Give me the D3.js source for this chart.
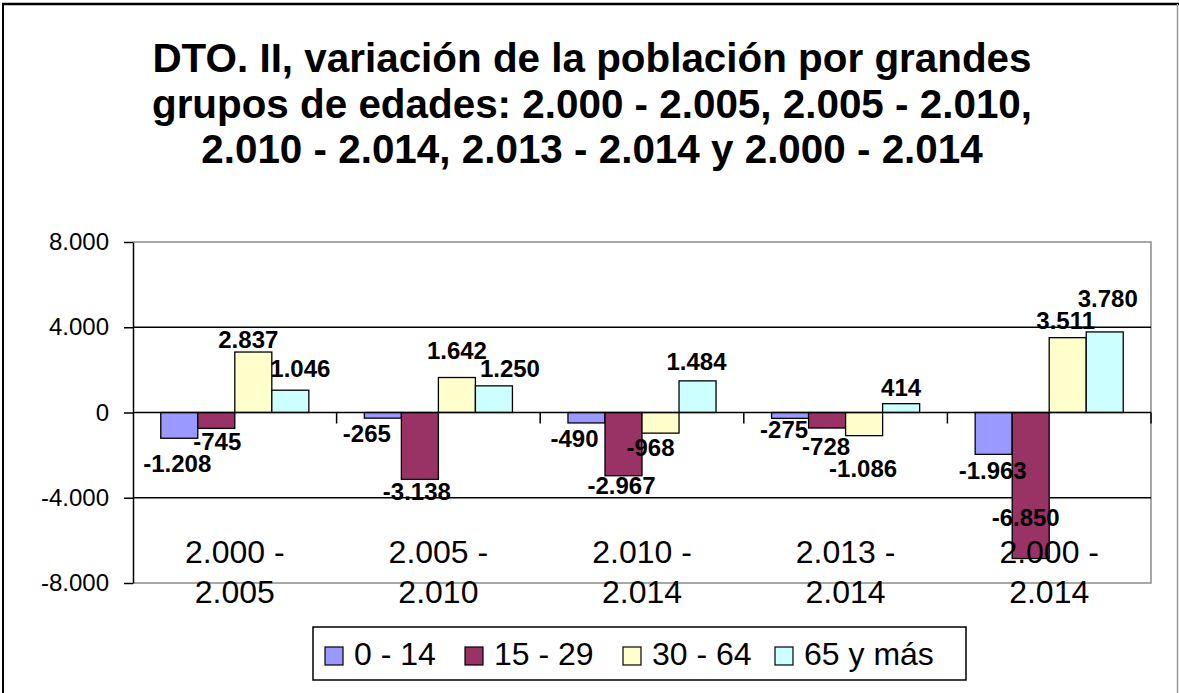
<!DOCTYPE html>
<html lang="es">
<head>
<meta charset="utf-8">
<script src="https://cdn.jsdelivr.net/npm/d3@7/dist/d3.min.js"></script>
<style>
  html, body { margin: 0; padding: 0; background: #fff; }
  svg { display: block; font-family: "Liberation Sans", Arial, sans-serif; }
</style>
</head>
<body>
<svg id="chart" width="1179" height="693"></svg>
<script>
// Population change by age group, DTO. II
const periods = [
  ["2.000 -", "2.005"],
  ["2.005 -", "2.010"],
  ["2.010 -", "2.014"],
  ["2.013 -", "2.014"],
  ["2.000 -", "2.014"]
];
const seriesNames = ["0 - 14", "15 - 29", "30 - 64", "65 y más"];
const age0to14 = [-1208, -265, -490, -275, -1963];
const age15to29 = [-745, -3138, -2967, -728, -6850];
const age30to64 = [2837, 1642, -968, -1086, 3511];
const age65plus = [1046, 1250, 1484, 414, 3780];
const yTickValues = [-8000, -4000, 0, 4000, 8000];
const titleLines = [
  "DTO. II, variación de la población por grandes",
  "grupos de edades: 2.000 - 2.005, 2.005 - 2.010,",
  "2.010 - 2.014, 2.013 - 2.014 y 2.000 - 2.014"
];

const seriesValues = [age0to14, age15to29, age30to64, age65plus];
const colors = ["#9999FF", "#993366", "#FFFFCC", "#CCFFFF"];

// small hand offsets [dx, dy] for each value label, per series and period
const labelShift = [
  [[-2, 10], [-16, 0], [-12, 0], [-6, -4], [-1, 1]],
  [[1, -2], [-3, -3], [-2, -6], [-1, 3], [-5, -56]],
  [[-5, 2], [0, -13], [-10, -1], [-1, 17], [-2, -3]],
  [[10, -7], [16, -3], [-1, -5], [0, -2], [3, -19]]
];

const es = d3.formatLocale({ decimal: ",", thousands: ".", grouping: [3], currency: ["", ""], minus: "-" });
const fmt = es.format(",d");

const svg = d3.select("#chart");
const W = 1179, H = 693;

// outer chart frame
svg.append("line").attr("x1", 3).attr("x2", 3).attr("y1", 3).attr("y2", H).attr("stroke", "#000").attr("stroke-width", 2);
svg.append("line").attr("x1", 2).attr("x2", W).attr("y1", 4).attr("y2", 4).attr("stroke", "#000").attr("stroke-width", 2.5);
svg.append("line").attr("x1", 1177.5).attr("x2", 1177.5).attr("y1", 4).attr("y2", H).attr("stroke", "#9a9a9a").attr("stroke-width", 1.5);

// title
const title = svg.append("text")
  .attr("text-anchor", "middle")
  .attr("font-weight", "bold")
  .attr("font-size", 40.4)
  .attr("fill", "#000");
titleLines.forEach((t, i) => {
  title.append("tspan").attr("x", 592).attr("y", 72 + i * 45.5).text(t);
});

// scales
const plot = { left: 133, right: 1151, top: 242, bottom: 583 };
const x0 = d3.scaleBand().domain(d3.range(periods.length)).range([plot.left, plot.right]).paddingInner(0).paddingOuter(0);
const x1 = d3.scaleBand().domain(d3.range(seriesNames.length)).range([0, x0.bandwidth()]).paddingInner(0).paddingOuter(0.75);
const y = d3.scaleLinear().domain([-8000, 8000]).range([plot.bottom, plot.top]);

// plot frame (grey) on top/right/bottom
svg.append("path")
  .attr("d", `M${plot.left},${plot.top}H${plot.right}V${plot.bottom}H${plot.left}`)
  .attr("fill", "none").attr("stroke", "#8c8c8c").attr("stroke-width", 1.5);

// major gridlines
svg.append("g").selectAll("line")
  .data(yTickValues.filter(v => v !== 8000 && v !== -8000 && v !== 0))
  .join("line")
  .attr("x1", plot.left).attr("x2", plot.right)
  .attr("y1", d => y(d)).attr("y2", d => y(d))
  .attr("stroke", "#000").attr("stroke-width", 1.5);

// y axis
const yAxis = svg.append("g")
  .attr("transform", `translate(${plot.left},0)`)
  .call(d3.axisLeft(y).tickValues(yTickValues).tickFormat(fmt).tickSize(9).tickSizeOuter(0).tickPadding(15));
yAxis.select(".domain").attr("stroke", "#000").attr("stroke-width", 1.5);
yAxis.selectAll(".tick line").attr("stroke", "#000").attr("stroke-width", 1.5);
yAxis.selectAll(".tick text")
  .attr("font-size", 24).attr("fill", "#000")
  .attr("font-family", "'Liberation Sans', Arial, sans-serif");

// bars
const groups = svg.append("g").selectAll("g")
  .data(periods.map((p, i) => i))
  .join("g")
  .attr("transform", i => `translate(${x0(i)},0)`);

groups.selectAll("rect")
  .data(ci => seriesValues.map((vals, si) => ({ si, ci, v: vals[ci] })))
  .join("rect")
  .attr("x", d => x1(d.si))
  .attr("width", x1.bandwidth())
  .attr("y", d => Math.min(y(d.v), y(0)))
  .attr("height", d => Math.abs(y(d.v) - y(0)))
  .attr("fill", d => colors[d.si])
  .attr("stroke", "#000").attr("stroke-width", 1.3);

// zero axis with category separators
svg.append("line")
  .attr("x1", plot.left).attr("x2", plot.right)
  .attr("y1", y(0)).attr("y2", y(0))
  .attr("stroke", "#000").attr("stroke-width", 1.5);
svg.append("g").selectAll("line")
  .data(d3.range(1, periods.length + 1))
  .join("line")
  .attr("x1", i => plot.left + i * x0.step()).attr("x2", i => plot.left + i * x0.step())
  .attr("y1", y(0)).attr("y2", y(0) + 11)
  .attr("stroke", "#000").attr("stroke-width", 1.5);

// value labels
const labels = [];
seriesValues.forEach((vals, si) => vals.forEach((v, ci) => labels.push({ si, ci, v })));
svg.append("g").selectAll("text")
  .data(labels)
  .join("text")
  .attr("text-anchor", "middle")
  .attr("font-size", 24).attr("font-weight", "bold").attr("fill", "#000")
  .attr("x", d => x0(d.ci) + x1(d.si) + x1.bandwidth() / 2 + labelShift[d.si][d.ci][0])
  .attr("y", d => (d.v >= 0 ? y(d.v) - 6 : y(d.v) + 24) + labelShift[d.si][d.ci][1])
  .text(d => fmt(d.v));

// category labels
const cat = svg.append("g").selectAll("text")
  .data(periods)
  .join("text")
  .attr("text-anchor", "middle")
  .attr("font-size", 32).attr("fill", "#000");
cat.each(function (p, i) {
  const t = d3.select(this);
  p.forEach((line, k) => {
    t.append("tspan").attr("x", x0(i) + x0.bandwidth() / 2).attr("y", 563 + k * 40).text(line);
  });
});

// legend
const legend = svg.append("g");
legend.append("rect")
  .attr("x", 313).attr("y", 627).attr("width", 653).attr("height", 53)
  .attr("fill", "#fff").attr("stroke", "#000").attr("stroke-width", 1.5);
const legendX = [325, 465, 623, 775];
const sw = 18, swY = 647;
seriesNames.forEach((name, i) => {
  legend.append("rect")
    .attr("x", legendX[i]).attr("y", swY).attr("width", sw).attr("height", sw)
    .attr("fill", colors[i]).attr("stroke", "#000").attr("stroke-width", 1.2);
  legend.append("text")
    .attr("x", legendX[i] + sw + 11).attr("y", 665)
    .attr("font-size", 32).attr("fill", "#000")
    .text(name);
});
</script>
</body>
</html>
